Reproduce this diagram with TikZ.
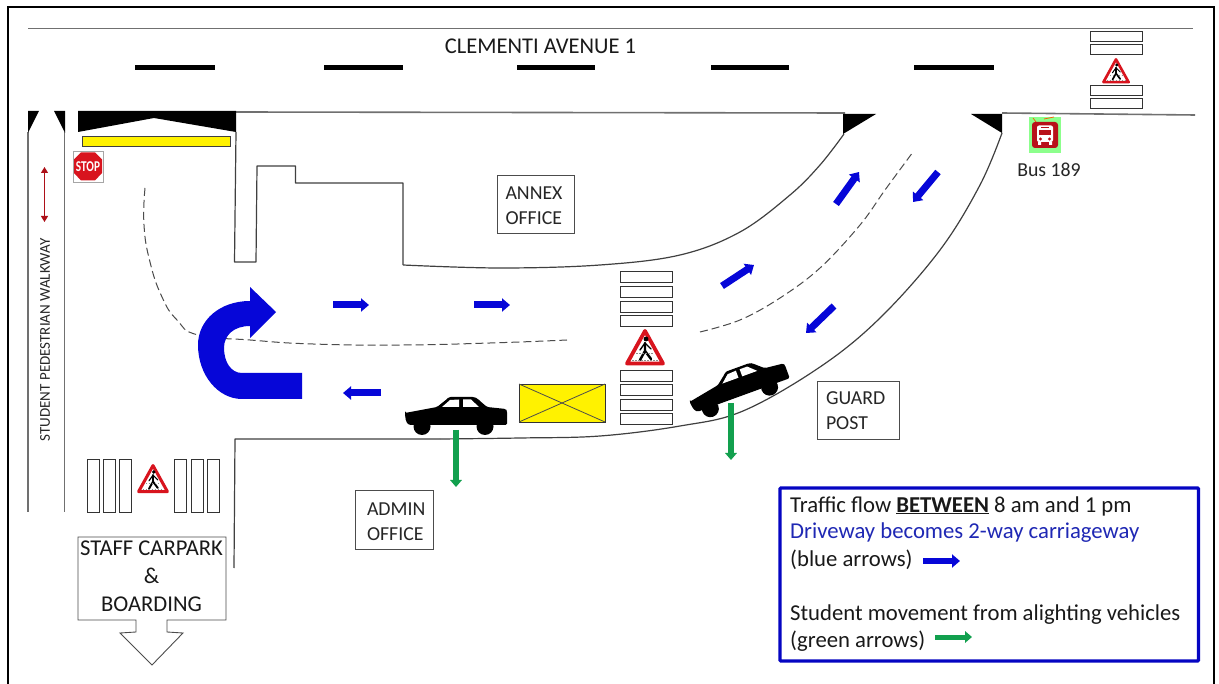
\documentclass[tikz,border=0pt]{standalone}
\usepackage{fontspec}
\setmainfont{Carlito}
\usetikzlibrary{arrows.meta,calc}
\definecolor{bluearrow}{HTML}{0606D8}
\definecolor{greenarrow}{HTML}{12A04E}
\definecolor{signred}{HTML}{D8141E}
\definecolor{legendblue}{HTML}{1F28B4}
\definecolor{roadline}{HTML}{707070}
\tikzset{
  road/.style={draw=roadline,line width=1.6pt},
  curb/.style={draw=black!75,line width=1.2pt},
  bar/.style={draw=black!80,fill=white,line width=1pt},
  dash road/.style={draw=black!70,line width=1pt,dash pattern=on 8pt off 4pt},
  office/.style={draw=black!70,line width=.8pt,fill=white,align=left,font=\fontsize{19.8}{25}\selectfont,inner sep=0pt,text=black!85},
  label text/.style={align=left,inner sep=0pt,anchor=base west,font=\fontsize{22.7}{27}\selectfont,text=black!90},
  bluearr/.style={draw=bluearrow,line width=7pt,-{Triangle[length=8pt,width=13pt]}},
  greenarr/.style={draw=greenarrow,line width=5.6pt,-{Triangle[length=7pt,width=11.5pt]}},
}
\newcommand{\warnsign}[3]{%
 \begin{scope}[shift={(#1,#2)},scale=#3]
  \draw[signred,line width=#3*3.8pt,line join=round,fill=white](-18,14.5)--(0,-18)--(18,14.5)--cycle;
  \fill[black](1,-10) circle (2.4);
  \draw[black,line width=#3*2.4pt,line cap=round](0,-6)--(0,2)--(-5,11);
  \draw[black,line width=#3*2.4pt,line cap=round](0,2)--(6,10);
  \draw[black,line width=#3*1.4pt,line cap=round](-5,1)--(0,-6)--(6,0);
  \draw[black!45,line width=#3*.7pt,dash pattern=on 1.5pt off 1.5pt](-13,11.5)--(13,11.5) (-9,4)--(9,4);
 \end{scope}}
\newcommand{\carshape}{%
  \fill[black,rounded corners=1.5pt] (-51,2) -- (-19,-4) -- (-9,-12) .. controls (-7,-14) and (-6,-14) .. (-4,-14)
   -- (15,-14) .. controls (19,-14) and (21,-13) .. (24,-10) -- (31,-4)
   -- (50,-2) -- (51,0) -- (51,14) -- (-47,14) .. controls (-50,11) and (-51,7) .. (-51,2) -- cycle;
  \fill[black] (-34,15.5) circle (8.5) (29,15.5) circle (8.5);
  \fill[white] (-14,-4) -- (-6,-11) -- (3,-11.5) -- (3,-4) -- cycle;
  \fill[white] (7,-11.5) -- (15,-11.5) -- (23,-4) -- (7,-4) -- cycle;}
\begin{document}
\begin{tikzpicture}[x=1pt,y=-1pt]
\useasboundingbox (0,0) rectangle (1219,684);
\fill[white] (0,0) rectangle (1219,684);
% page frame: its lower edge lies outside the picture
\begin{scope}
\clip (0,0) rectangle (1219,684);
\draw[black,line width=2pt] (8,7) rectangle (1214,695);
\end{scope}
% main road
\draw[road] (28,28.5) -- (1193,28.5);
\draw[road] (235,112) -- (845,113) (1002,113) -- (1195,115);
\foreach \a/\b in {135/215,324/403,517/595,711/789,914/994}
  \fill[black] (\a,65) rectangle (\b,70.5);
\node[font=\fontsize{22.5}{24}\selectfont,text=black!90,inner sep=0pt] (avenue) at (540.5,46) {CLEMENTI AVENUE 1};
% top right crossing
\foreach \y in {32,45,86,99} \draw[bar] (1090,\y) rectangle (1142,\y+10);
\warnsign{1116}{72}{.7}
% bus
\fill[green!45!white] (1029,117) rectangle (1061,153);
\draw[orange!70!red,line width=.7pt] (1033,118) -- (1036,122) (1044,119) -- (1054,117);
\fill[signred!85!black,rounded corners=3pt] (1032,122) rectangle (1058,148);
\fill[white,rounded corners=2pt] (1037,125.5) rectangle (1053,142);
\fill[white] (1038,142) rectangle (1041,145) (1049,142) rectangle (1052,145);
\fill[signred!85!black] (1039,130) rectangle (1051,135.5);
\fill[signred!85!black] (1041,127) rectangle (1049,128.5);
\fill[signred!85!black] (1040.5,139) circle (1.6) (1049.5,139) circle (1.6);
\node[font=\fontsize{19.8}{22}\selectfont,text=black!85,inner sep=0pt] (bus) at (1049,169.5) {Bus 189};
% walkway
\draw[road] (28,132) -- (28,512);
\draw[road] (64.5,132) -- (64.5,512);
\fill[black] (28,111) -- (39,111) -- (28,133) -- cycle;
\fill[black] (54,111) -- (65,111) -- (65,133) -- cycle;
\draw[{Triangle[length=6pt,width=7pt]}-{Triangle[length=6pt,width=7pt]},draw=signred!80!black,fill=signred!80!black,line width=1pt] (44.5,167) -- (44.5,222);
\node[rotate=90,font=\fontsize{15}{16}\selectfont,text=black!85,inner sep=0pt] (walk) at (45,340) {STUDENT PEDESTRIAN WALKWAY};
% entrance black + yellow
\fill[black] (78,111) -- (236,111) -- (236,132) -- (154,118) -- (78,132) -- cycle;
\draw[black!75,fill=yellow,line width=.8pt] (82,136) rectangle (230,146);
% stop
\draw[black!35,fill=white,line width=.6pt] (73,151) rectangle (103.5,182);
\fill[signred] (81,152.5) -- (95,152.5) -- (102,159.5) -- (102,173) -- (95,180.5) -- (81,180.5) -- (74,173) -- (74,159.5) -- cycle;
\node[text=white,font=\bfseries\fontsize{15}{15}\selectfont,inner sep=0pt,xscale=.75] (stop) at (88,167) {STOP};
% building outline
\draw[curb,line join=round] (236,132) -- (234.5,262) -- (256,262) -- (257,166) -- (295.5,166) -- (295.5,183) -- (403,183) -- (403,265);
\draw[curb] plot[smooth,tension=.6] coordinates {(403,265) (500,268) (600,265) (680,255) (740,232) (790,195) (820,165) (844,134)};
\fill[black] (843,114) -- (876,114) -- (843,134) -- cycle;
\fill[black] (971,114) -- (1002,114) -- (1002,133) -- cycle;
% lower curb
\draw[curb,line join=round] (234,568) -- (235,439) -- (440,439);
\draw[curb] plot[smooth,tension=.6] coordinates {(440,439) (520,438) (600,436) (680,426) (743,411) (820,367) (880,318) (940,250) (980,185) (1002,133)};
% dashed
\draw[dash road] plot[smooth,tension=.8] coordinates {(145,188) (144,225) (150,262) (162,297) (177,320) (198,335) (250,340) (313,344) (400,345) (490,343) (567,340)};
\draw[dash road] plot[smooth,tension=.6] coordinates {(700,332) (740,320) (780,298) (820,268) (860,225) (885,190) (913,152)};
% centre crossing
\foreach \y in {272,287,302,316,371,385,400,414} \draw[bar] (620,\y) rectangle (672,\y+11);
\warnsign{645}{349}{1}
% yellow box
\draw[black!80,fill=yellow,line width=.8pt] (519,384) rectangle (605,422);
\draw[black!70,line width=.8pt] (519,384) -- (605,422) (519,422) -- (605,384);
% offices
\node[office,minimum width=77pt,minimum height=58pt,text width=60pt] (annex) at (535.5,204) {\rule{0pt}{16pt}ANNEX\\OFFICE};
\node[office,minimum width=78pt,minimum height=59pt,text width=54pt] (admin) at (394,519.5) {\rule{0pt}{16.5pt}ADMIN\\OFFICE};
\node[office,minimum width=82pt,minimum height=58pt,text width=64pt] (guard) at (858,410) {\rule{0pt}{15pt}GUARD\\POST};
% arrows
\draw[bluearr] (333,305) -- (369,305);
\draw[bluearr] (474,305) -- (510,305);
\draw[bluearr] (381,393) -- (343,393);
\draw[bluearr] (722,286) -- (754,265);
\draw[bluearr] (834,306) -- (806,333);
\draw[bluearr] (836,204) -- (859,172);
\draw[bluearr] (938,172) -- (913,202);
% cars
\begin{scope}[shift={(456,411)}]\carshape\end{scope}
\begin{scope}[shift={(737,382.5)},rotate=20]\carshape\end{scope}
\draw[greenarr] (456,430) -- (456,487);
\draw[greenarr] (731,403) -- (731,460);
% U turn
\fill[bluearrow] (302,373) -- (242,373) .. controls (231,373) and (224,362) .. (224,348)
  .. controls (224,335) and (234,326) .. (250,326)
  -- (250,338) -- (276,312) -- (250,287) -- (250,301)
  .. controls (220,301) and (198,320) .. (198,345)
  .. controls (198,375) and (218,399) .. (242,399) -- (302,399) -- cycle;
% lower crossing
\foreach \x in {87,103.5,119.5,174.5,191,207} \draw[black!80,line width=.9pt,fill=white] (\x,459) rectangle (\x+12,512);
\warnsign{153}{480}{.8}
% staff carpark
\draw[draw=black!70,line width=.9pt,fill=white] (78,537) -- (226,537) -- (226,620) -- (167,620) -- (167,632) -- (183,633) -- (152,665) -- (120,633) -- (136,632) -- (136,620) -- (78,620) -- cycle;
\node[align=center,font=\fontsize{22.6}{28}\selectfont,text=black!90,inner sep=0pt] (staff) at (151.5,576) {STAFF CARPARK\\\&\\BOARDING};
% legend
\draw[draw=bluearrow!90!black,line width=3.3pt,rounded corners=1pt] (780,488) rectangle (1198.5,661);
\node[label text] (l1) at (790,512) {Traffic flow \textbf{\underline{BETWEEN}} 8 am and 1 pm};
\node[label text,text=legendblue] (l2) at (790,539) {Driveway becomes 2-way carriageway};
\node[label text] (l3) at (790,566.7) {(blue arrows)};
\node[label text] (l4) at (790,620.7) {Student movement from alighting vehicles};
\node[label text] (l5) at (790,647.7) {(green arrows)};
\draw[bluearr,line width=6pt] (923,561) -- (960,561);
\draw[greenarr,line width=5pt] (935,637) -- (972,637);
\end{tikzpicture}
\end{document}
